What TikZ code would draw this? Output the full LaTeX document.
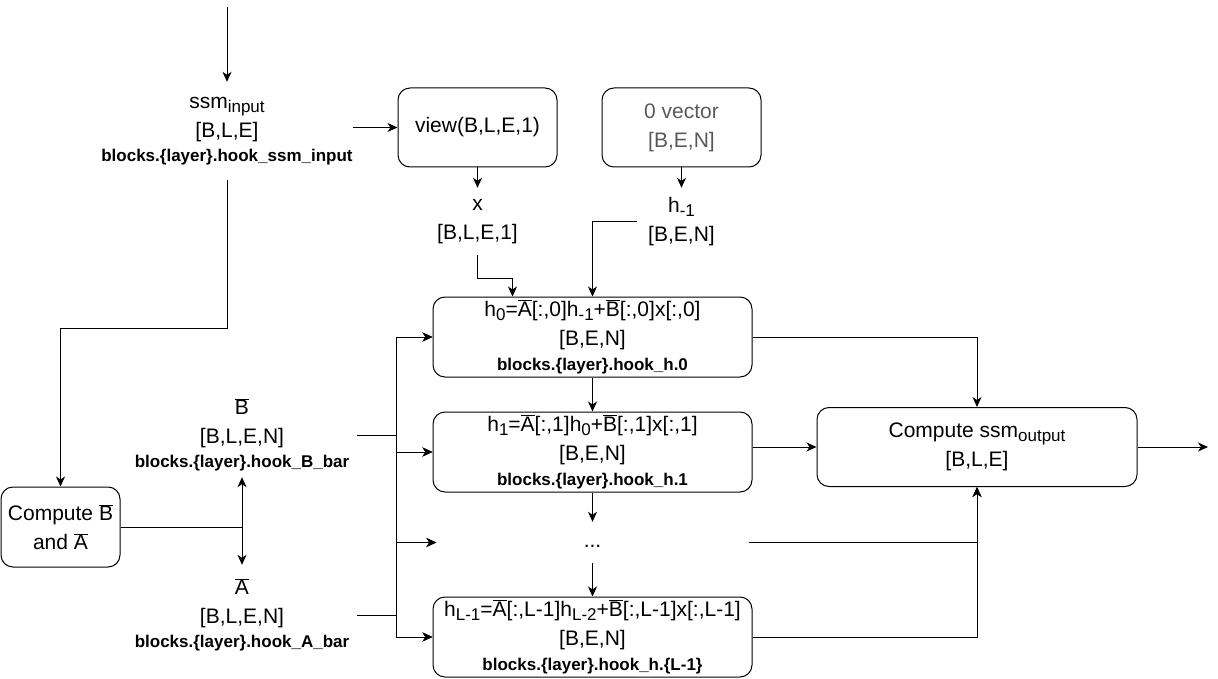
\documentclass[tikz,border=0pt]{standalone}
\usepackage{fontspec}
\setmainfont{Liberation Sans}
\usetikzlibrary{arrows.meta, positioning, calc}

\newcommand{\ov}[1]{$\overline{\mbox{#1}}$}
\newcommand{\sub}[1]{\raisebox{-4pt}{\fontsize{17}{17}\selectfont #1}}
\newcommand{\hk}[1]{{\bfseries\fontsize{17}{22}\selectfont #1}}

\begin{document}
\begin{tikzpicture}[x=1pt, y=-1pt,
    font=\fontsize{21}{29}\selectfont,
    box/.style={draw, rounded corners=12pt, line width=1pt, align=center, inner sep=0pt},
    hbox/.style={box, minimum width=319pt, minimum height=80pt},
    lbl/.style={align=center, inner sep=0pt},
    arr/.style={-{Stealth[length=10pt, width=9pt, inset=3pt]}, line width=1pt},
    line/.style={line width=1pt}]
    \useasboundingbox (0,0) rectangle (1218,679);

    % input side
    \coordinate (inp) at (227,7);
    \node[lbl, minimum width=250pt, minimum height=98pt] (ssmin) at (227,131) {ssm\sub{input}\\{[B,L,E]}\\[-5pt]\hk{blocks.\{layer\}.hook\_ssm\_input}};
    \node[box, minimum width=159pt, minimum height=79pt] (view) at (477.5,127.5) {view(B,L,E,1)};
    \node[box, text=black!65, minimum width=159pt, minimum height=79pt] (zero) at (681.5,127.5) {0 vector\\{[B,E,N]}};
    \node[lbl, minimum width=90pt, minimum height=67pt] (xin) at (477.5,221.5) {x\\{[B,L,E,1]}};
    \node[lbl, minimum width=88pt, minimum height=67pt] (hm1) at (681.5,221.5) {h\sub{-1}\\{[B,E,N]}};

    % recurrence
    \node[hbox] (h0) at (592.5,337) {h\sub{0}=\ov{A}[:,0]h\sub{-1}+\ov{B}[:,0]x[:,0]\\{[B,E,N]}\\[-4pt]\hk{blocks.\{layer\}.hook\_h.0}};
    \node[hbox] (h1) at (592.5,452) {h\sub{1}=\ov{A}[:,1]h\sub{0}+\ov{B}[:,1]x[:,1]\\{[B,E,N]}\\[-4pt]\hk{blocks.\{layer\}.hook\_h.1}};
    \node[lbl, minimum width=312pt, minimum height=41pt] (dots) at (592.5,542.5) {\raisebox{-5pt}[0pt][0pt]{...}};
    \node[hbox] (hL) at (592.5,637) {h\sub{L-1}=\ov{A}[:,L-1]h\sub{L-2}+\ov{B}[:,L-1]x[:,L-1]\\{[B,E,N]}\\[-4pt]\hk{blocks.\{layer\}.hook\_h.\{L-1\}}};
    \node[box, minimum width=320pt, minimum height=79pt] (out) at (977,447) {Compute ssm\sub{output}\\{[B,L,E]}};
    \coordinate (outend) at (1208,447);

    % discretisation
    \node[box, minimum width=119pt, minimum height=80pt] (comp) at (60.5,527) {Compute \ov{B}\\and \ov{A}};
    \node[lbl, minimum width=230pt, minimum height=84pt] (Bbar) at (242,435) {\ov{B}\\{[B,L,E,N]}\\[-5pt]\hk{blocks.\{layer\}.hook\_B\_bar}};
    \node[lbl, minimum width=230pt, minimum height=100pt] (Abar) at (242,615) {\ov{A}\\{[B,L,E,N]}\\[-5pt]\hk{blocks.\{layer\}.hook\_A\_bar}};
    \coordinate (bus) at (396,0);
    \coordinate (split) at (242,527);

    \draw[arr] (inp) -- (ssmin.north);
    \draw[arr] (view.west -| ssmin.east) -- (view.west);
    \draw[arr] (view) -- (xin);
    \draw[arr] (zero) -- (hm1);
    \draw[arr] (xin.south) -- ++(0,23) -| ($(h0.north)+(-80,0)$);
    \draw[arr] (hm1.west) -| (h0.north);
    \draw[arr] (h0) -- (h1);
    \draw[arr] (h1) -- (dots);
    \draw[arr] (dots) -- (hL);
    \draw[arr] (h0.east) -| (out.north);
    \draw[arr] (out.west -| h1.east) -- (out.west);
    \draw[arr] (dots.east) -| (out.south);
    \draw[arr] (hL.east) -| (out.south);
    \draw[arr] (out.east) -- (outend);
    \draw[arr] (ssmin.south) -- ++(0,148) -| (comp.north);
    \draw[line] (comp.east) -- (split);
    \draw[arr] (split) -- (Bbar.south);
    \draw[arr] (split) -- (Abar.north);
    \foreach \t in {h0,h1,dots,hL} {
        \draw[arr] (Bbar.east) -- (Bbar.east -| bus) |- (\t.west);
        \draw[arr] (Abar.east) -- (Abar.east -| bus) |- (\t.west);
    }
\end{tikzpicture}
\end{document}
